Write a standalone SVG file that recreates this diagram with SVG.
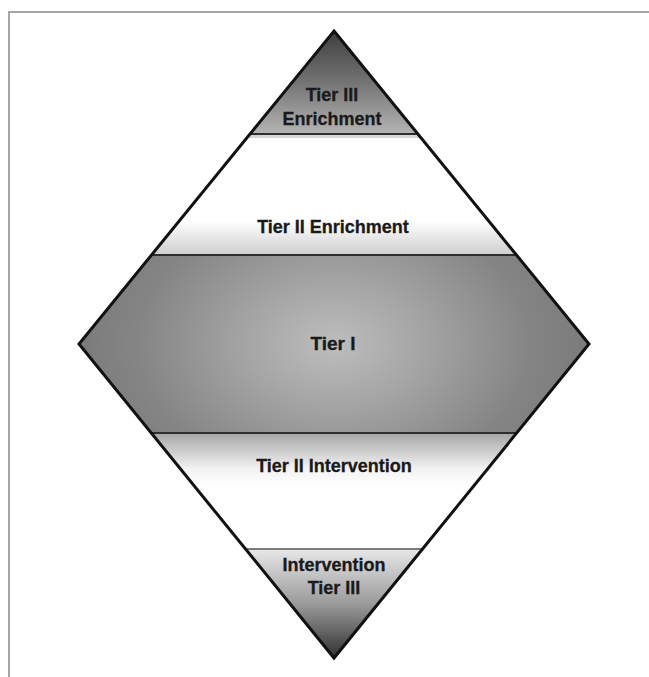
<svg xmlns="http://www.w3.org/2000/svg" width="649" height="677" viewBox="0 0 649 677">
  <style>
    .lbl { font-family: "Liberation Sans", Arial, sans-serif; font-weight: bold; font-size: 18px; fill: #1a1a1a; text-anchor: middle; stroke: #1a1a1a; stroke-width: 0.3; }
    .sep { stroke: #2e2e2e; stroke-width: 2; }
    .sepl { stroke: #d6d6d6; stroke-width: 3; }
  </style>
  <defs>
    <clipPath id="dia">
      <polygon points="334,31 589,344 334,658 79,344"/>
    </clipPath>
    <linearGradient id="gTop" x1="0" y1="31" x2="0" y2="134" gradientUnits="userSpaceOnUse">
      <stop offset="0" stop-color="#3e3e3e"/>
      <stop offset="0.45" stop-color="#6e6e6e"/>
      <stop offset="1" stop-color="#b4b4b4"/>
    </linearGradient>
    <linearGradient id="gEnr" x1="0" y1="136" x2="0" y2="254" gradientUnits="userSpaceOnUse">
      <stop offset="0" stop-color="#ffffff"/>
      <stop offset="0.72" stop-color="#ffffff"/>
      <stop offset="1" stop-color="#cfcfcf"/>
    </linearGradient>
    <radialGradient id="gT1" cx="334" cy="344" r="260" gradientUnits="userSpaceOnUse" gradientTransform="translate(334 344) scale(1 0.7) translate(-334 -344)">
      <stop offset="0" stop-color="#bdbdbd"/>
      <stop offset="0.35" stop-color="#a4a4a4"/>
      <stop offset="0.75" stop-color="#858585"/>
      <stop offset="1" stop-color="#7a7a7a"/>
    </radialGradient>
    <linearGradient id="gInt" x1="0" y1="434" x2="0" y2="549" gradientUnits="userSpaceOnUse">
      <stop offset="0" stop-color="#a8a8a8"/>
      <stop offset="0.3" stop-color="#f2f2f2"/>
      <stop offset="0.45" stop-color="#ffffff"/>
      <stop offset="1" stop-color="#ffffff"/>
    </linearGradient>
    <linearGradient id="gBot" x1="0" y1="550" x2="0" y2="658" gradientUnits="userSpaceOnUse">
      <stop offset="0" stop-color="#e6e6e6"/>
      <stop offset="0.5" stop-color="#9a9a9a"/>
      <stop offset="1" stop-color="#303030"/>
    </linearGradient>
  </defs>

  <rect x="0" y="0" width="649" height="677" fill="#ffffff"/>
  <!-- frame -->
  <path d="M9,677 V12 H649" fill="none" stroke="#a6a6a6" stroke-width="2"/>

  <g clip-path="url(#dia)">
    <g id="tier3-enrichment">
      <rect x="70" y="25" width="530" height="111" fill="url(#gTop)"/>
      <line class="sepl" x1="70" y1="136.5" x2="600" y2="136.5"/>
      <line class="sep" x1="70" y1="134" x2="600" y2="134"/>
    </g>
    <g id="tier2-enrichment">
      <rect x="70" y="138" width="530" height="116" fill="url(#gEnr)"/>
    </g>
    <g id="tier1">
      <rect x="70" y="254" width="530" height="179" fill="url(#gT1)"/>
      <line class="sep" x1="70" y1="255" x2="600" y2="255"/>
      <line class="sep" x1="70" y1="433" x2="600" y2="433"/>
    </g>
    <g id="tier2-intervention">
      <rect x="70" y="434" width="530" height="115" fill="url(#gInt)"/>
    </g>
    <g id="tier3-intervention">
      <rect x="70" y="549" width="530" height="115" fill="url(#gBot)"/>
      <line x1="70" y1="549" x2="600" y2="549" stroke="#555555" stroke-width="1.5"/>
    </g>
  </g>
  <polygon points="334,31 589,344 334,658 79,344" fill="none" stroke="#111111" stroke-width="3" stroke-linejoin="miter"/>

  <g id="labels">
    <text class="lbl" x="332" y="101">Tier III</text>
    <text class="lbl" x="332" y="125">Enrichment</text>
    <text class="lbl" x="333" y="233">Tier II Enrichment</text>
    <text class="lbl" x="333" y="350" style="font-size:19px">Tier I</text>
    <text class="lbl" x="334" y="472">Tier II Intervention</text>
    <text class="lbl" x="334" y="571">Intervention</text>
    <text class="lbl" x="334" y="594">Tier III</text>
  </g>
  <g id="connectors"/>
</svg>
